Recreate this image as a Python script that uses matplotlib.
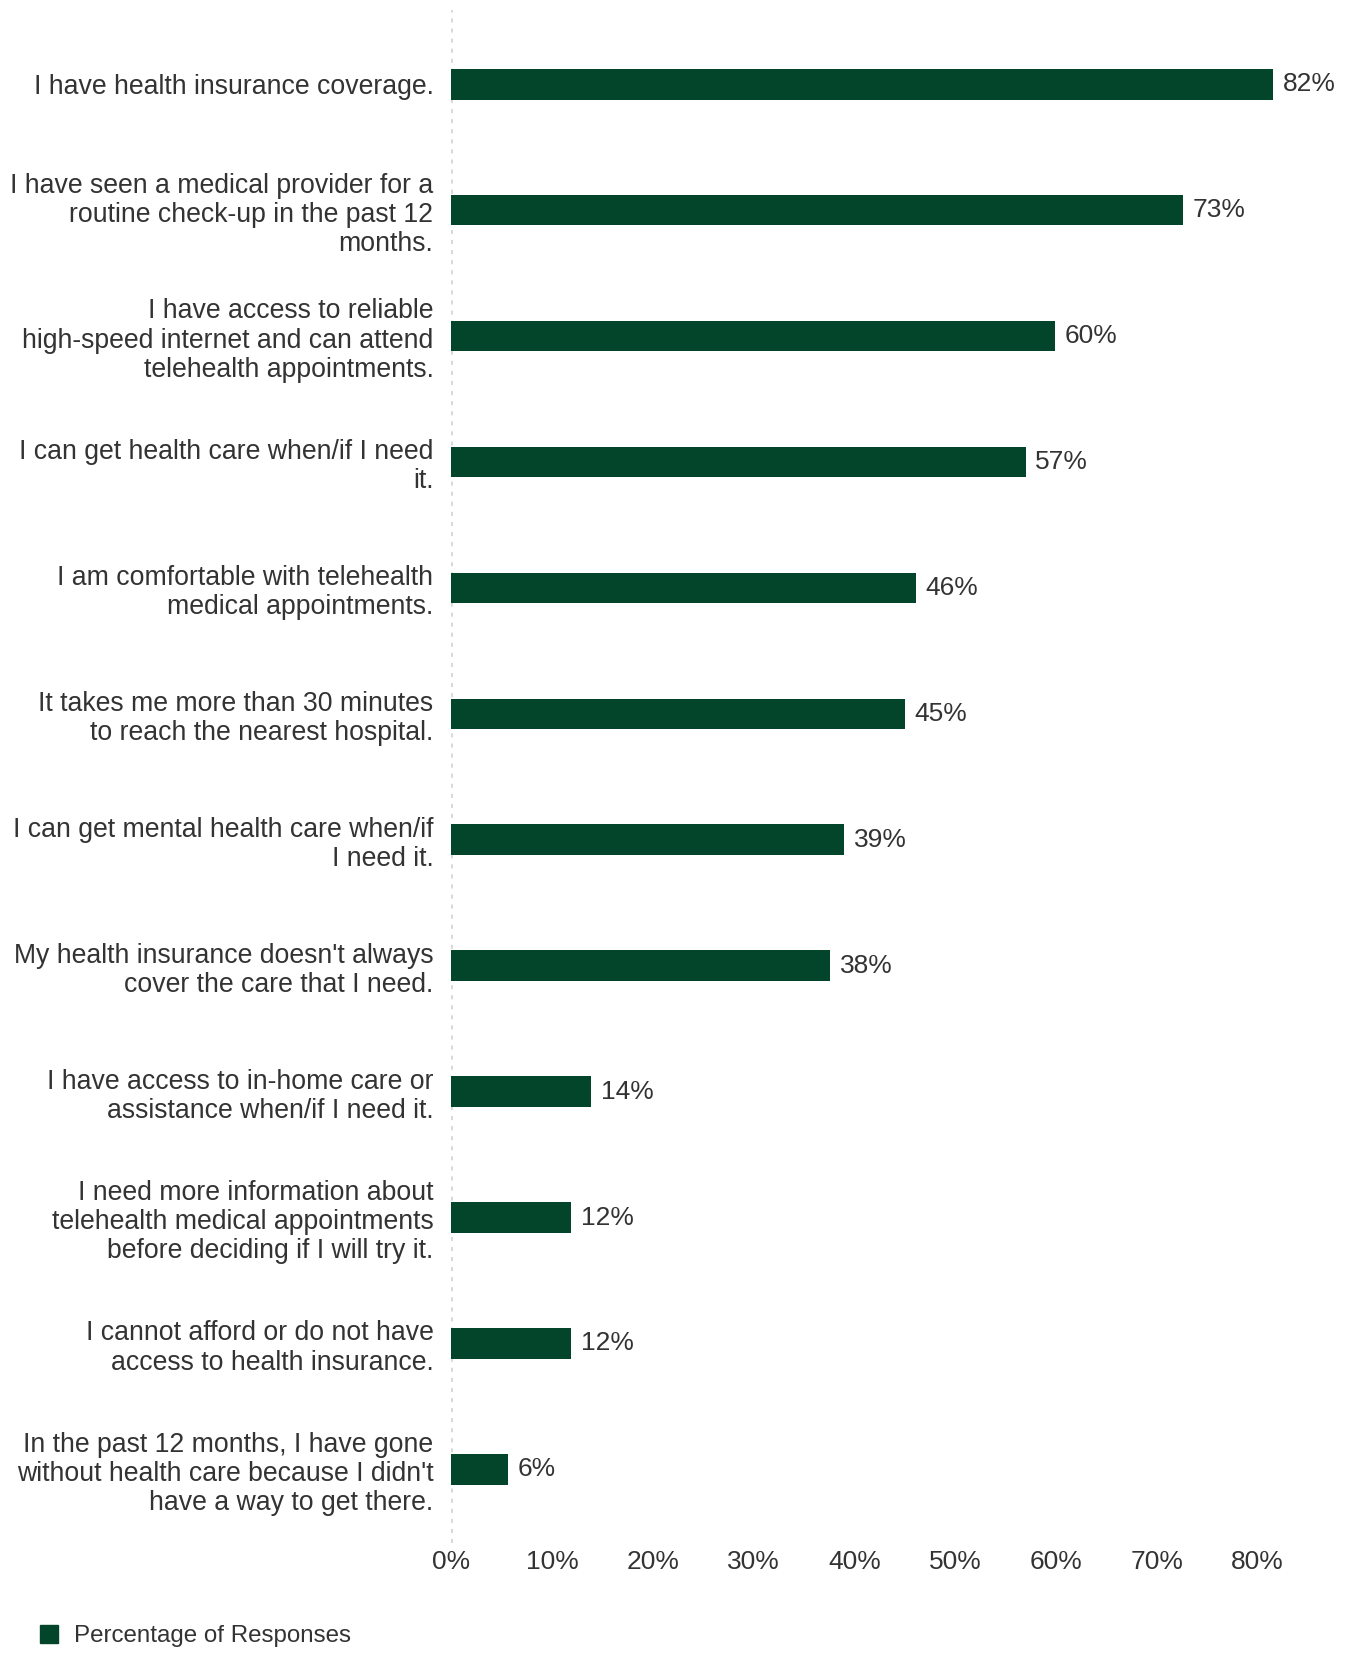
# Horizontal bar chart: survey responses about health care access
import matplotlib.pyplot as plt
from matplotlib.lines import Line2D
from matplotlib.ticker import FuncFormatter

# Data
statements = [
    "I have health insurance coverage.",
    "I have seen a medical provider for a\nroutine check-up in the past 12\nmonths.",
    "I have access to reliable\nhigh-speed internet and can attend\ntelehealth appointments.",
    "I can get health care when/if I need\nit.",
    "I am comfortable with telehealth\nmedical appointments.",
    "It takes me more than 30 minutes\nto reach the nearest hospital.",
    "I can get mental health care when/if\nI need it.",
    "My health insurance doesn't always\ncover the care that I need.",
    "I have access to in-home care or\nassistance when/if I need it.",
    "I need more information about\ntelehealth medical appointments\nbefore deciding if I will try it.",
    "I cannot afford or do not have\naccess to health insurance.",
    "In the past 12 months, I have gone\nwithout health care because I didn't\nhave a way to get there.",
]
percentages = [81.6, 72.6, 59.9, 57.0, 46.1, 45.0, 39.0, 37.6, 13.9, 11.9, 11.9, 5.6]
x_ticks = [0, 10, 20, 30, 40, 50, 60, 70, 80]
series_name = "Percentage of Responses"

bar_color = "#03452a"
text_color = "#333333"

plt.rcParams['font.family'] = ['Liberation Sans', 'DejaVu Sans']

fig = plt.figure(figsize=(13.46, 16.54), dpi=100)
ax = fig.add_axes([0.3354, 0.0671, 0.6646, 0.9269])

positions = list(range(len(statements)))
bars = ax.barh(positions, percentages, height=0.243, color=bar_color)

# value labels next to each bar
ax.bar_label(bars, labels=[f"{v:.0f}%" for v in percentages], padding=7,
             fontsize=19, color=text_color)

# dotted baseline at 0%
ax.axvline(0, color="#d9d9d9", linewidth=2.9, linestyle=(0, (1, 1.5)),
           dash_capstyle="butt", zorder=0)

ax.set_yticks(positions)
ax.set_yticklabels(statements, fontsize=19.2, color=text_color, linespacing=1.16)
ax.set_ylim(11.585, -0.59)

ax.set_xlim(0, 88.8)
ax.set_xticks(x_ticks)
ax.xaxis.set_major_formatter(FuncFormatter(lambda v, p: f"{v:.0f}%"))
ax.tick_params(axis='x', length=0, pad=5, labelsize=19, labelcolor=text_color)
ax.tick_params(axis='y', length=0, pad=13)

for side in ax.spines.values():
    side.set_visible(False)

# legend at bottom left
handle = Line2D([], [], marker='s', linestyle='none', markersize=13.5,
                markerfacecolor=bar_color, markeredgecolor=bar_color)
fig.legend([handle], [series_name], loc='lower left', bbox_to_anchor=(0.002, -0.009),
           frameon=False, fontsize=17.4, handletextpad=0.05, labelcolor=text_color)

fig.savefig("out.png", dpi=100)
